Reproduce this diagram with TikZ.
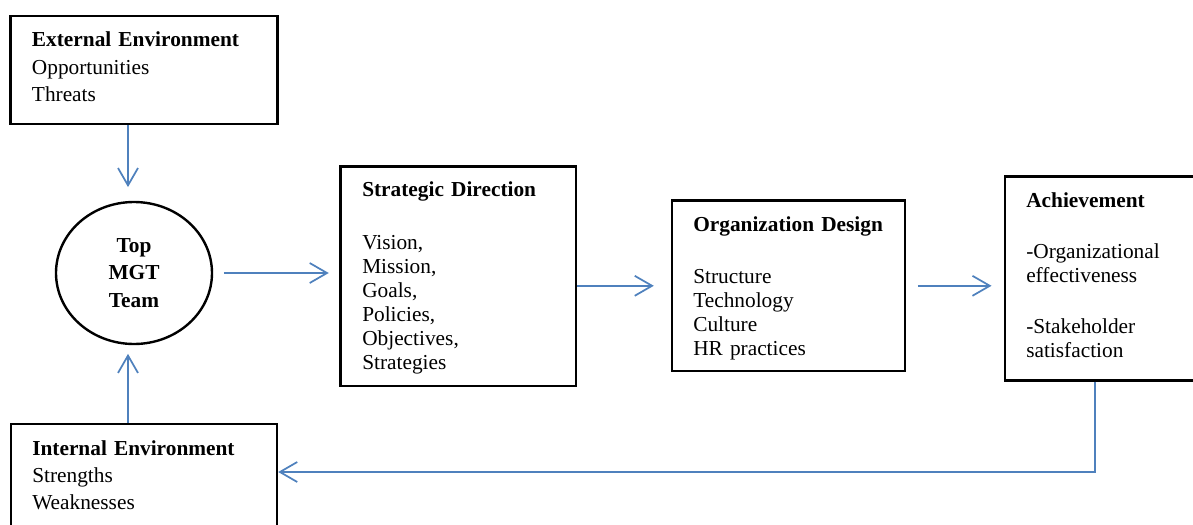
\documentclass[tikz,border=0pt]{standalone}
\usepackage{fontspec}
\setmainfont{Liberation Serif}
\usetikzlibrary{arrows.meta,shapes.geometric}
\definecolor{flowblue}{RGB}{79,129,189}
\tikzset{
  box/.style={draw, line width=1.8pt, rectangle, inner sep=0pt},
  flow/.style={draw=flowblue, line width=1.3pt, -{Straight Barb[length=13pt,width=15pt,line width=1.3pt]}},
  envtext/.style={anchor=base west, inner sep=0pt, text width=190pt, align=left, font=\fontsize{16}{20.6}\selectfont},
  stagetext/.style={anchor=base west, inner sep=0pt, text width=170pt, align=left, font=\fontsize{16}{18}\selectfont},
}

\begin{document}
\begin{tikzpicture}[x=0.75pt,y=-0.75pt]
	\useasboundingbox (0,0) rectangle (1193,525);
	\clip (0,0) rectangle (1193,525);

	% boxes
	\node[box, minimum width=200pt, minimum height=81.2pt] (ext) at (144,70) {};
	\node[box, minimum width=199.5pt, minimum height=87pt] (int) at (144,482) {};
	\node[box, ellipse, minimum width=117pt, minimum height=106.5pt, align=center,
		font=\bfseries\fontsize{16}{20.6}\selectfont] (mgt) at (134,273) {Top\\MGT\\Team};
	\node[box, minimum width=176.5pt, minimum height=164.5pt] (strat) at (458.3,276.3) {};
	\node[box, minimum width=174.75pt, minimum height=127.7pt] (org) at (788.5,285.8) {};
	\node[box, minimum width=157.5pt, minimum height=152.9pt] (ach) at (1110,278.6) {};

	% box texts
	\node[envtext] (exttext) at (31.7,46.7) {\textbf{External Environment}\\Opportunities\\Threats};
	\node[envtext] (inttext) at (32,455) {\textbf{Internal Environment}\\Strengths\\Weaknesses};
	\node[stagetext] (strattext) at (362,196.5) {\textbf{Strategic Direction}\\[21.75pt]Vision,\\Mission,\\Goals,\\Policies,\\Objectives,\\Strategies};
	\node[stagetext] (orgtext) at (693,231.7) {\textbf{Organization Design}\\[20.5pt]Structure\\Technology\\Culture\\HR practices};
	\node[stagetext] (achtext) at (1026,207) {\textbf{Achievement}\\[20.5pt]-Organizational\\effectiveness\\[20.5pt]-Stakeholder\\satisfaction};

	% arrows
	\coordinate (axis) at (128,0);
	\coordinate (turn) at (1095,472);
	\draw[flow, shorten >=10.3pt] (ext.south -| axis) -- (mgt.north -| axis);
	\draw[flow, shorten >=6.5pt] (int.north -| axis) -- (mgt.south -| axis);
	\draw[flow, shorten <=8pt, shorten >=8pt] (mgt.east) -- (mgt.east -| strat.west);
	\draw[flow, shorten >=12.75pt] (org.west -| strat.east) -- (org.west);
	\draw[flow, shorten <=8.8pt, shorten >=9.2pt] (org.east) -- (org.east -| ach.west);
	\draw[flow] (ach.south -| turn) -- (turn) -- (turn -| int.east);
\end{tikzpicture}
\end{document}
